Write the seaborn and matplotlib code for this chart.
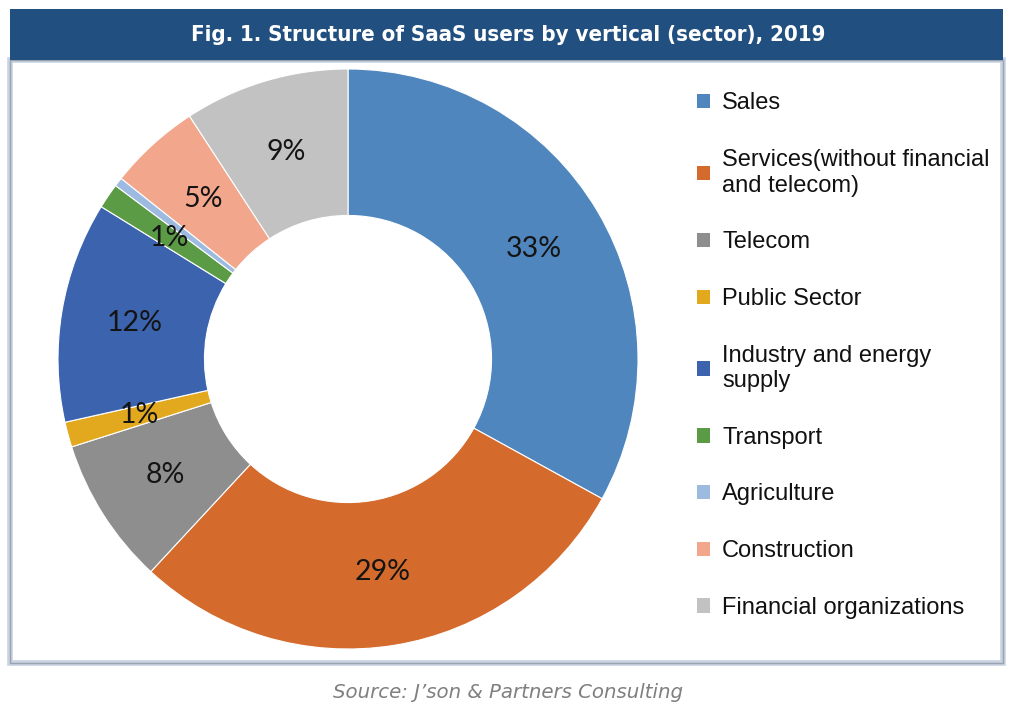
import matplotlib
matplotlib.use("Agg")
import matplotlib.pyplot as plt
from matplotlib.patches import Rectangle, Patch
import seaborn as sns

# ---- data ----
categories = ["Sales", "Services(without financial\nand telecom)", "Telecom", "Public Sector",
              "Industry and energy\nsupply", "Transport", "Agriculture", "Construction",
              "Financial organizations"]
shares = [33.0, 28.9, 8.2, 1.4, 12.3, 1.4, 0.5, 5.1, 9.2]
value_labels = ["33%", "29%", "8%", "1%", "12%", "1%", "", "5%", "9%"]
colors = ["#4f86bd", "#d46b2c", "#8e8e8e", "#e2a91f", "#3b63ae", "#5b9b45", "#9dbbe0",
          "#f2a78c", "#c2c2c2"]
title = "Fig. 1. Structure of SaaS users by vertical (sector), 2019"
source = "Source: J\u2019son & Partners Consulting"

sns.set_theme(style="white")
palette = sns.color_palette(colors)

W, H = 1012, 714
fig = plt.figure(figsize=(W / 100, H / 100), dpi=100)
fig.patch.set_facecolor("white")

# frame and title bar
fig.patches.append(Rectangle((10 / W, 1 - 663 / H), 993 / W, 603 / H, transform=fig.transFigure,
                             facecolor="white", edgecolor="#c8d2e2", linewidth=4, zorder=0))
fig.patches.append(Rectangle((10 / W, 1 - 663 / H), 993 / W, 603 / H, transform=fig.transFigure,
                             facecolor="none", edgecolor="#9aa3ad", linewidth=1, zorder=0))
fig.patches.append(Rectangle((10 / W, 1 - 60 / H), 993 / W, 51 / H, transform=fig.transFigure,
                             facecolor="#214f80", edgecolor="none", zorder=1))
fig.text(508 / W, 1 - 35 / H, title, ha="center", va="center", color="white",
         fontsize=15.9, fontweight="bold", family="DejaVu Sans", fontstretch="condensed")

fig.text(508 / W, 1 - 692 / H, source, ha="center", va="center", color="#7f7f7f",
         fontsize=14.2, style="italic", family="DejaVu Sans")

# donut
cx, cy, R = 348, 359, 290
half = 300
ax = fig.add_axes([(cx - half) / W, (H - cy - half) / H, 2 * half / W, 2 * half / H])
ax.set_zorder(5)
ax.patch.set_alpha(0)
wedges, texts = ax.pie(shares, colors=palette, startangle=90, counterclock=False,
                       radius=1.0, labels=value_labels, labeldistance=0.745,
                       wedgeprops=dict(width=0.505, edgecolor="white", linewidth=0.8),
                       textprops=dict(fontsize=20.5, color="#141414", family="Lato",
                                      ha="center", va="center"))
lim = half / R
ax.set_xlim(-lim, lim)
ax.set_ylim(-lim, lim)
ax.set_aspect("equal")
ax.axis("off")

# legend
handles = [Patch(facecolor=c, edgecolor="none") for c in palette]
leg = fig.legend(handles, categories, loc="upper left",
                 bbox_to_anchor=(688 / W, 1 - 83 / H), frameon=False,
                 prop=dict(family="Liberation Sans", size=17),
                 handlelength=0.55, handleheight=0.55, handletextpad=0.5,
                 labelspacing=1.47, borderaxespad=0)
for t in leg.get_texts():
    t.set_color("#111111")
leg.set_zorder(6)

fig.savefig("out.png", dpi=100, facecolor="white")
